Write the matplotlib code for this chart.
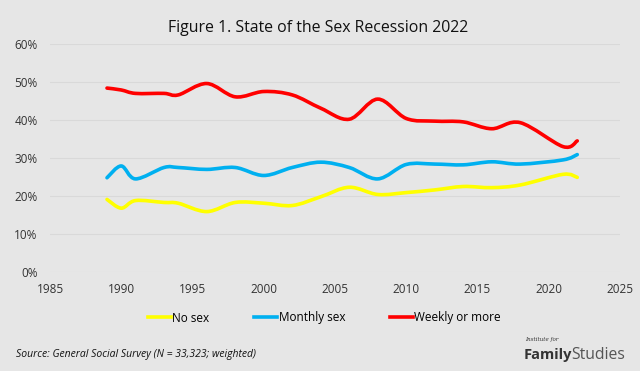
import matplotlib
matplotlib.use("Agg")
import matplotlib.pyplot as plt
import numpy as np
from matplotlib.path import Path
from matplotlib.patches import PathPatch
from matplotlib.lines import Line2D

years = [1989, 1990, 1991, 1993, 1994, 1996, 1998, 2000, 2002, 2004, 2006,
         2008, 2010, 2012, 2014, 2016, 2018, 2021, 2022]
no_sex = [19.1, 16.8, 18.8, 18.3, 18.1, 15.9, 18.3, 18.1, 17.5, 19.8, 22.3,
          20.4, 20.9, 21.6, 22.5, 22.2, 22.9, 25.7, 24.9]
monthly = [24.8, 27.9, 24.5, 27.5, 27.5, 27.0, 27.5, 25.4, 27.5, 28.9, 27.5,
           24.5, 28.3, 28.4, 28.2, 29.0, 28.4, 29.5, 30.9]
weekly = [48.4, 47.9, 47.0, 47.0, 46.6, 49.6, 46.1, 47.5, 46.6, 43.1, 40.2,
          45.5, 40.4, 39.7, 39.5, 37.7, 39.3, 33.0, 34.5]
series_names = ["No sex", "Monthly sex", "Weekly or more"]
colors = ["#FFFF00", "#00B0F0", "#FF0000"]
yticks = [0, 10, 20, 30, 40, 50, 60]
xticks = [1985, 1990, 1995, 2000, 2005, 2010, 2015, 2020, 2025]

BG = "#E6E6E6"
FONT = "Open Sans"

def smooth_path(x, y):
    # Excel-style smoothed line: cubic Bezier segments (Catmull-Rom control points)
    x = np.asarray(x, float); y = np.asarray(y, float)
    n = len(x)
    verts = [(x[0], y[0])]
    codes = [Path.MOVETO]
    for i in range(n - 1):
        p0 = np.array([x[max(i - 1, 0)], y[max(i - 1, 0)]])
        p1 = np.array([x[i], y[i]])
        p2 = np.array([x[i + 1], y[i + 1]])
        p3 = np.array([x[min(i + 2, n - 1)], y[min(i + 2, n - 1)]])
        c1 = p1 + (p2 - p0) / 6.0
        c2 = p2 - (p3 - p1) / 6.0
        verts += [tuple(c1), tuple(c2), tuple(p2)]
        codes += [Path.CURVE4] * 3
    return Path(verts, codes)

fig = plt.figure(figsize=(6.4, 3.71), dpi=100, facecolor=BG)
ax = fig.add_axes([50 / 640, 1 - 272 / 371, (620 - 50) / 640, (272 - 44) / 371])
ax.set_facecolor(BG)

for vals, c in zip([no_sex, monthly, weekly], colors):
    ax.add_patch(PathPatch(smooth_path(years, vals), facecolor="none",
                           edgecolor=c, lw=2.6, capstyle="round", joinstyle="round"))

ax.set_xlim(1985, 2025)
ax.set_ylim(0, 60)
ax.set_yticks(yticks)
ax.set_yticklabels([f"{v}%" for v in yticks], fontsize=8.5, family=FONT, color="#333333")
ax.set_xticks(xticks)
ax.set_xticklabels([str(v) for v in xticks], fontsize=8.5, family=FONT, color="#333333")
ax.tick_params(axis="x", length=0, pad=8)
ax.tick_params(axis="y", length=0, pad=9)
ax.grid(axis="y", color="#D9D9D9", lw=0.8)
ax.set_axisbelow(True)
for s in ax.spines.values():
    s.set_visible(False)

fig.text(318 / 640, 1 - 32 / 371, "Figure 1. State of the Sex Recession 2022", ha="center",
         va="baseline", fontsize=11.4, family=FONT, color="#111111")

handles = [Line2D([0], [0], color=c, lw=2.6) for c in colors]
fig.legend(handles, series_names, loc="center", bbox_to_anchor=(0.507, 1 - 318 / 371),
           ncol=3, frameon=False, prop={"family": FONT, "size": 8.5},
           handlelength=1.95, handletextpad=0.1, columnspacing=3.8)

fig.text(16 / 640, 1 - 354 / 371, "Source: General Social Survey (N = 33,323; weighted)",
         ha="left", va="center", fontsize=7.45, style="italic", family=FONT, color="#111111")
fig.text(525 / 640, 1 - 340 / 371, "Institute for", ha="left", va="center", fontsize=4,
         style="italic", family="DejaVu Serif", color="#333333")
fig.text(524 / 640, 1 - 355 / 371, "Family", ha="left", va="center", fontsize=10.5,
         weight="bold", family=FONT, color="#333333")
fig.text(571 / 640, 1 - 355 / 371, "Studies", ha="left", va="center", fontsize=11.3,
         family=FONT, color="#555555")

fig.savefig("out.png", dpi=100, facecolor=BG)
